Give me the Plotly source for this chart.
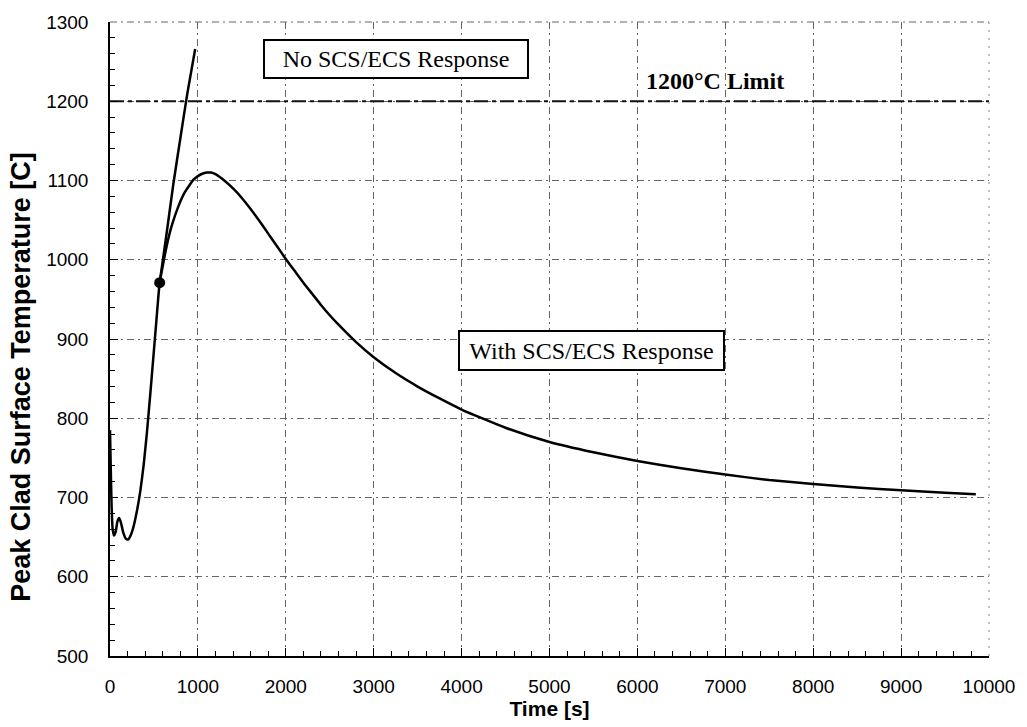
import plotly.graph_objects as go

# Shared early transient (both cases identical until SCS/ECS actuation)
t_common = [0, 8, 18, 30, 45, 65, 85, 105, 125, 150, 180, 205, 230, 260, 308, 346, 384, 421, 470, 535, 565]
T_common = [785, 740, 690, 660, 652, 657, 670, 674, 668, 656, 648, 647, 651, 660, 684, 709, 742, 783, 846, 933, 971]

# Continuation without SCS/ECS response
t_no = [565, 640, 720, 800, 880, 969]
T_no = [971, 1030, 1095, 1153, 1210, 1266]

# Continuation with SCS/ECS response
t_with = [565, 600, 640, 700, 780, 850, 950, 1000, 1050, 1100, 1150, 1200, 1300, 1400, 1500,
          1600, 1700, 1800, 1900, 2000, 2100, 2200, 2300, 2400, 2500, 2600, 2800, 3000, 3250,
          3500, 3750, 4000, 4500, 5000, 5500, 6000, 6500, 7000, 7500, 8000, 8500, 9000, 9500, 9850]
T_with = [971, 992, 1015, 1042, 1068, 1085, 1101, 1105.5, 1108.5, 1110, 1110, 1108, 1100, 1090, 1078,
          1064, 1049, 1033, 1017, 1001, 986, 971, 957, 943, 930, 918, 896, 877, 857,
          840, 825, 811, 788, 770, 757, 746, 737, 729, 722, 717, 712.5, 709, 706, 704]

# Actuation point
t_act = [565]
T_act = [971]

limit_T = 1200

fig = go.Figure()

fig.add_trace(go.Scatter(
    x=t_no, y=T_no, mode="lines",
    line=dict(color="black", width=2.5, shape="spline", smoothing=0.5),
    showlegend=False, hoverinfo="skip"))

fig.add_trace(go.Scatter(
    x=t_common + t_with[1:], y=T_common + T_with[1:], mode="lines",
    line=dict(color="black", width=2.5, shape="spline", smoothing=0.5),
    showlegend=False, hoverinfo="skip"))

fig.add_trace(go.Scatter(
    x=[0, 10000], y=[limit_T, limit_T], mode="lines",
    line=dict(color="#111", width=2.2, dash="14px,4px,4px,4px"),
    showlegend=False, hoverinfo="skip"))

fig.add_trace(go.Scatter(
    x=t_act, y=T_act, mode="markers",
    marker=dict(color="black", size=11),
    showlegend=False, hoverinfo="skip"))

grid_dash = "7px,4px,2px,4px"

fig.update_xaxes(
    range=[0, 10000], dtick=1000, tick0=0, tickformat="d",
    showgrid=True, gridcolor="#666", gridwidth=1, griddash=grid_dash,
    showline=True, linecolor="black", linewidth=1.5,
    ticks="inside", ticklen=8, tickcolor="black", tickwidth=1,
    minor=dict(dtick=200, ticks="inside", ticklen=5, tickcolor="black", showgrid=False),
    tickfont=dict(family="Arial", size=19, color="black"),
    ticklabelstandoff=12,
    title=dict(text="<b>Time [s]</b>", font=dict(family="Arial", size=21, color="black"), standoff=4),
    zeroline=False, mirror=False)

fig.update_yaxes(
    range=[500, 1300], dtick=100, tick0=500, tickformat="d",
    showgrid=True, gridcolor="#666", gridwidth=1, griddash=grid_dash,
    showline=True, linecolor="black", linewidth=1.5,
    ticks="inside", ticklen=8, tickcolor="black", tickwidth=1,
    minor=dict(dtick=20, ticks="inside", ticklen=5, tickcolor="black", showgrid=False),
    tickfont=dict(family="Arial", size=19, color="black"),
    ticklabelstandoff=16,
    zeroline=False, mirror=False)

# y-axis title, placed as rotated text
fig.add_annotation(x=-0.1015, y=0.44, xref="paper", yref="paper",
                   text="<b>Peak Clad Surface Temperature [C]</b>", textangle=-90,
                   showarrow=False, font=dict(family="Arial", size=27, color="black"),
                   xanchor="center", yanchor="middle")

# top and right frame edges
fig.add_shape(type="line", xref="paper", yref="paper", x0=0, x1=1, y0=1, y1=1,
              line=dict(color="#666", width=1, dash=grid_dash))
fig.add_shape(type="line", xref="paper", yref="paper", x0=1, x1=1, y0=0, y1=1,
              line=dict(color="#888", width=1, dash="2px,6px"))

serif = "Liberation Serif, Times New Roman, serif"

fig.add_annotation(x=3248, y=1253, xref="x", yref="y", text="No SCS/ECS Response",
                   showarrow=False, font=dict(family=serif, size=24, color="black"),
                   bordercolor="black", borderwidth=2, borderpad=2, bgcolor="white",
                   width=258, height=32, xanchor="center", yanchor="middle")

fig.add_annotation(x=5476, y=885.2, xref="x", yref="y", text="With SCS/ECS Response",
                   showarrow=False, font=dict(family=serif, size=24, color="black"),
                   bordercolor="black", borderwidth=2, borderpad=2, bgcolor="white",
                   width=259, height=33, xanchor="center", yanchor="middle")

fig.add_annotation(x=6882, y=1225, xref="x", yref="y", text="<b>1200°C Limit</b>",
                   showarrow=False, font=dict(family=serif, size=24, color="black"),
                   xanchor="center", yanchor="middle")

fig.update_layout(
    width=1027, height=727,
    margin=dict(l=109.5, r=35.5, t=16, b=70),
    paper_bgcolor="white", plot_bgcolor="white",
    showlegend=False)

fig.write_html("out.html")
